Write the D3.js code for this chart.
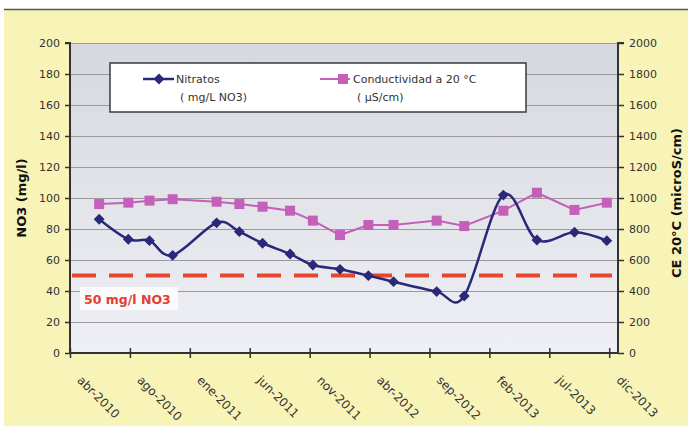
<!DOCTYPE html>
<html><head><meta charset="utf-8">
<script src="https://cdn.jsdelivr.net/npm/d3@7"></script>
<style>
html,body{margin:0;padding:0;background:#fff;}
svg{display:block;font-family:"DejaVu Sans","Liberation Sans",sans-serif;}
</style></head>
<body>
<svg id="chart" width="688" height="430"></svg>
<script>
// ---- data ----
const sampleDates = ["2010-06-13","2010-08-25","2010-10-17","2010-12-14","2011-04-03","2011-05-30","2011-07-27","2011-10-04","2011-11-30","2012-02-06","2012-04-17","2012-06-19","2012-10-05","2012-12-13","2013-03-21","2013-06-13","2013-09-15","2013-12-05"];
const nitratos = [86.3,73.4,72.5,63,84,78.3,70.8,63.9,56.8,54,49.9,46,39.6,36.8,101.9,72.9,77.9,72.5];
const conductividad = [961,970,983,992,976,961,944,918,854,761,826,826,854,819,918,1034,923,970];
const tickDates = ["2010-04-01","2010-08-29","2011-01-26","2011-06-25","2011-11-22","2012-04-20","2012-09-17","2013-02-14","2013-07-14","2013-12-11"];
const tickLabels = ["abr-2010","ago-2010","ene-2011","jun-2011","nov-2011","abr-2012","sep-2012","feb-2013","jul-2013","dic-2013"];
const leftTicks = [0,20,40,60,80,100,120,140,160,180,200];
const rightTicks = [0,200,400,600,800,1000,1200,1400,1600,1800,2000];
const limitValue = 50;
const limitLabel = "50 mg/l NO3";
const xDomain = ["2010-04-01","2014-01-02"];

const parse = d3.utcParse("%Y-%m-%d");
const svg = d3.select("#chart");
const L = 70, R = 618, T = 43, B = 353;

// backgrounds
svg.append("rect").attr("x",4).attr("y",10).attr("width",684).attr("height",416).attr("fill","#f8f4b8");
svg.append("line").attr("x1",4).attr("x2",688).attr("y1",9.5).attr("y2",9.5).attr("stroke","#5a5550").attr("stroke-width",1.5);

const defs = svg.append("defs");
const grad = defs.append("linearGradient").attr("id","pa").attr("x1",0).attr("x2",0).attr("y1",0).attr("y2",1);
grad.append("stop").attr("offset","0%").attr("stop-color","#d6d8df");
grad.append("stop").attr("offset","100%").attr("stop-color","#eff0f5");
svg.append("rect").attr("x",L).attr("y",T).attr("width",R-L).attr("height",B-T).attr("fill","url(#pa)");

// scales
const x = d3.scaleUtc().domain(xDomain.map(parse)).range([L,R]);
const yL = d3.scaleLinear().domain([0,200]).range([B,T]);
const yR = d3.scaleLinear().domain([0,2000]).range([B,T]);

// gridlines
svg.append("g").selectAll("line").data(leftTicks.filter(v=>v>0)).join("line")
  .attr("x1",L).attr("x2",R).attr("y1",d=>yL(d)+0.5).attr("y2",d=>yL(d)+0.5)
  .attr("stroke","#9a9a9e").attr("stroke-width",1);

// axes
const axL = d3.axisLeft(yL).tickValues(leftTicks).tickSize(5).tickPadding(5).tickFormat(d3.format("d"));
const gL = svg.append("g").attr("transform",`translate(${L},0)`).call(axL);
const axR = d3.axisRight(yR).tickValues(rightTicks).tickSize(6).tickPadding(5).tickFormat(d3.format("d"));
const gR = svg.append("g").attr("transform",`translate(${R},0)`).call(axR);
const axB = d3.axisBottom(x).tickValues(tickDates.map(parse)).tickSize(5).tickFormat((d,i)=>tickLabels[i]);
const gB = svg.append("g").attr("transform",`translate(0,${B})`).call(axB);
[gL,gR,gB].forEach(g=>{
  g.select(".domain").attr("stroke","#333").attr("stroke-width",2);
  g.selectAll(".tick line").attr("stroke","#333").attr("stroke-width",1.5);
  g.selectAll("text").attr("fill","#333").attr("font-size",11).attr("font-family","DejaVu Sans");
});
gL.select(".domain").attr("d",`M-5,${T}H0V${B}`);
gR.select(".domain").attr("d",`M6,${T}H0V${B}`);
gB.select(".domain").attr("d",`M${L},0H${R}`);
gB.selectAll(".tick line").attr("y1",-5).attr("y2",5);
gB.selectAll(".tick text")
  .attr("text-anchor","start").attr("dy",0).attr("y",0).attr("font-size",12)
  .attr("transform","translate(6,28) rotate(45)");

// limit line
svg.append("line").attr("x1",L+2).attr("x2",R-6).attr("y1",yL(limitValue)).attr("y2",yL(limitValue))
  .attr("stroke","#e8442e").attr("stroke-width",4).attr("stroke-dasharray","24,13");
svg.append("rect").attr("x",80).attr("y",287).attr("width",98).attr("height",23).attr("fill","#fbfbfd");
svg.append("text").attr("x",84).attr("y",304).attr("fill","#e0402c").attr("font-weight","bold").attr("font-size",12.5).text(limitLabel);

// series
const navy = "#2a2878", pink = "#c45fba";
const ptsN = sampleDates.map((d,i)=>[x(parse(d)), yL(nitratos[i])]);
const ptsC = sampleDates.map((d,i)=>[x(parse(d)), yR(conductividad[i])]);

svg.append("path").attr("d", d3.line().curve(d3.curveLinear)(ptsC))
  .attr("fill","none").attr("stroke",pink).attr("stroke-width",2);
svg.append("g").selectAll("rect").data(ptsC).join("rect")
  .attr("x",d=>d[0]-5).attr("y",d=>d[1]-5).attr("width",10).attr("height",10).attr("fill",pink);

svg.append("path").attr("d", d3.line().curve(d3.curveCardinal.tension(0))(ptsN))
  .attr("fill","none").attr("stroke",navy).attr("stroke-width",2.5);
const diamond = d3.symbol().type(d3.symbolDiamond2).size(75);
svg.append("g").selectAll("path").data(ptsN).join("path")
  .attr("d",diamond()).attr("transform",d=>`translate(${d[0]},${d[1]})`).attr("fill",navy);

// legend
svg.append("rect").attr("x",110).attr("y",63).attr("width",416).attr("height",49).attr("fill","#fff").attr("stroke","#3a3a3a").attr("stroke-width",1.5);
svg.append("line").attr("x1",143).attr("x2",174).attr("y1",79).attr("y2",79).attr("stroke",navy).attr("stroke-width",2.5);
svg.append("path").attr("d",diamond()).attr("transform","translate(159,79)").attr("fill",navy);
svg.append("text").attr("x",176).attr("y",83).attr("font-size",11).attr("fill","#333").text("Nitratos");
svg.append("text").attr("x",180).attr("y",101).attr("font-size",11).attr("fill","#333").text("( mg/L NO3)");
svg.append("line").attr("x1",320).attr("x2",350).attr("y1",79).attr("y2",79).attr("stroke",pink).attr("stroke-width",2);
svg.append("rect").attr("x",338).attr("y",74).attr("width",10).attr("height",10).attr("fill",pink);
svg.append("text").attr("x",353).attr("y",83).attr("font-size",11).attr("fill","#333").text("Conductividad a 20 °C");
svg.append("text").attr("x",357).attr("y",101).attr("font-size",11).attr("fill","#333").text("( µS/cm)");

// axis titles
svg.append("text").attr("transform","translate(26,198) rotate(-90)").attr("text-anchor","middle")
  .attr("font-weight","bold").attr("font-size",13).attr("fill","#111").text("NO3 (mg/l)");
svg.append("text").attr("transform","translate(681,203) rotate(-90)").attr("text-anchor","middle")
  .attr("font-weight","bold").attr("font-size",13).attr("fill","#111").text("CE 20°C (microS/cm)");
</script>
</body></html>
